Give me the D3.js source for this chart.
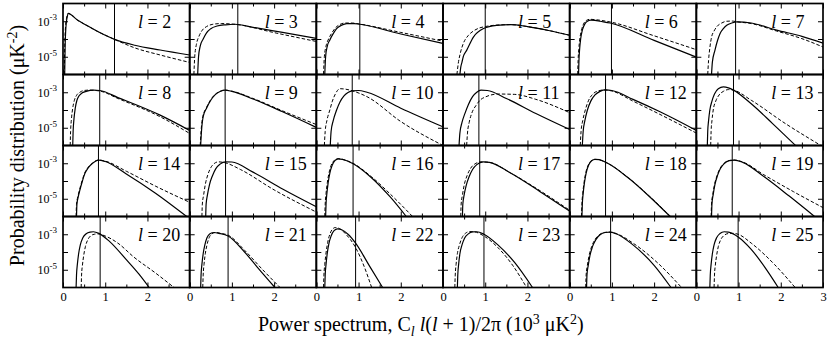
<!DOCTYPE html>
<meta charset="utf-8">
<script src="https://cdn.jsdelivr.net/npm/d3@7/dist/d3.min.js"></script>
<style>
  body { margin: 0; background: #fff; }
  text { font-family: "Liberation Serif", "Times New Roman", serif; fill: #000; }
</style>
<svg></svg>
<script>
    // multipole of each panel
    var ells = d3.range(2, 26);
    // position of the vertical line in each panel (10^3 uK^2)
    var vline = [1.22, 1.14, 1.03, 1.0, 0.99, 0.93,
                 0.87, 0.84, 0.85, 0.85, 0.85, 0.88,
                 0.84, 0.85, 0.87, 0.87, 0.85, 0.85,
                 0.88, 0.91, 0.93, 0.97, 0.97, 0.99];
    // solid curves: [x, log10 p]
    var solid = [
        [[0.04,-6],[0.05,-4.5],[0.07,-3.3],[0.1,-2.75],[0.13,-2.56],[0.2,-2.65],[0.35,-2.95],[0.5,-3.15],[0.8,-3.55],[1.22,-4.02],[1.7,-4.35],[2.3,-4.62],[3,-4.9]],
        [[0.19,-6],[0.21,-5],[0.25,-4.4],[0.32,-4.0],[0.4,-3.65],[0.5,-3.42],[0.65,-3.27],[0.85,-3.2],[1.07,-3.17],[1.5,-3.34],[2.2,-3.63],[3,-3.96]],
        [[0.2,-6],[0.22,-5],[0.26,-4.4],[0.32,-4.05],[0.4,-3.7],[0.48,-3.42],[0.6,-3.22],[0.72,-3.13],[0.9,-3.13],[1.03,-3.17],[2,-3.72],[3,-4.25]],
        [[0.4,-6],[0.42,-5.6],[0.45,-5.3],[0.48,-5.0],[0.56,-4.64],[0.72,-3.89],[0.96,-3.41],[1.27,-3.23],[1.6,-3.19],[2,-3.3],[2.5,-3.52],[3,-3.79]],
        [[0.21,-6],[0.22,-5.2],[0.235,-4.6],[0.26,-4.0],[0.3,-3.5],[0.36,-3.15],[0.42,-3.0],[0.5,-2.94],[0.6,-2.95],[0.72,-3.0],[0.96,-3.1],[2,-4.08],[3,-5.02]],
        [[0.36,-6],[0.38,-5.3],[0.44,-4.64],[0.5,-4.1],[0.56,-3.7],[0.64,-3.42],[0.72,-3.23],[0.84,-3.1],[0.96,-3.04],[1.3,-3.1],[1.9,-3.5],[2.5,-3.85],[3,-4.23]],
        [[0.23,-6],[0.24,-5.2],[0.26,-4.5],[0.29,-3.9],[0.33,-3.45],[0.38,-3.2],[0.44,-3.06],[0.55,-2.95],[0.72,-2.88],[0.87,-2.9],[1.3,-3.3],[2.3,-4.29],[3,-5.15]],
        [[0.26,-6],[0.28,-5.2],[0.32,-4.38],[0.4,-3.9],[0.5,-3.45],[0.6,-3.15],[0.72,-2.96],[0.84,-2.88],[1.0,-2.95],[1.5,-3.38],[2.2,-4.1],[3,-4.98]],
        [[0.33,-6],[0.35,-5.2],[0.4,-4.6],[0.48,-4.0],[0.56,-3.55],[0.65,-3.22],[0.75,-3.02],[0.85,-2.92],[1.0,-2.9],[1.2,-3.0],[2,-3.9],[3,-4.95]],
        [[0.38,-6],[0.4,-5.3],[0.45,-4.7],[0.52,-4.19],[0.6,-3.7],[0.7,-3.25],[0.8,-3.0],[0.9,-2.88],[1.05,-2.9],[1.5,-3.35],[2.2,-4.2],[3,-5.1]],
        [[0.3,-6],[0.32,-5.2],[0.36,-4.6],[0.42,-4.0],[0.5,-3.5],[0.6,-3.15],[0.72,-2.95],[0.85,-2.87],[1.0,-2.9],[1.5,-3.4],[2.14,-4.1],[3,-5.15]],
        [[0.26,-6],[0.27,-5.2],[0.29,-4.6],[0.32,-4.0],[0.37,-3.5],[0.43,-3.1],[0.52,-2.8],[0.64,-2.7],[0.76,-2.75],[0.88,-2.88],[1.3,-3.65],[1.8,-4.75],[2.35,-6]],
        [[0.32,-6],[0.33,-5.3],[0.36,-4.9],[0.4,-4.51],[0.46,-4.0],[0.52,-3.57],[0.6,-3.25],[0.7,-3.0],[0.84,-2.82],[1.0,-2.9],[1.5,-3.6],[2.2,-4.7],[2.93,-6]],
        [[0.38,-6],[0.39,-5.3],[0.42,-4.8],[0.47,-4.2],[0.54,-3.7],[0.62,-3.3],[0.72,-3.05],[0.85,-2.92],[1.0,-2.93],[1.5,-3.5],[2.2,-4.45],[3,-5.45]],
        [[0.22,-6],[0.23,-5.3],[0.25,-4.7],[0.28,-4.1],[0.32,-3.55],[0.37,-3.15],[0.44,-2.85],[0.52,-2.75],[0.62,-2.78],[0.85,-3.0],[1.3,-3.8],[1.75,-4.9],[2.13,-6]],
        [[0.46,-6],[0.47,-5.3],[0.5,-4.8],[0.55,-4.25],[0.62,-3.75],[0.7,-3.35],[0.8,-3.08],[0.95,-2.92],[1.1,-2.95],[1.6,-3.55],[2.3,-4.6],[3,-5.7]],
        [[0.29,-6],[0.3,-5.3],[0.32,-4.7],[0.35,-4.1],[0.39,-3.55],[0.45,-3.1],[0.52,-2.86],[0.6,-2.78],[0.7,-2.8],[0.9,-3.0],[1.4,-3.85],[1.9,-4.9],[2.38,-6]],
        [[0.36,-6],[0.37,-5.3],[0.4,-4.75],[0.44,-4.2],[0.5,-3.7],[0.57,-3.3],[0.66,-3.02],[0.78,-2.85],[0.9,-2.82],[1.1,-2.95],[1.6,-3.75],[2.2,-4.85],[2.8,-6]],
        [[0.31,-6],[0.32,-5.3],[0.34,-4.7],[0.37,-4.1],[0.41,-3.6],[0.47,-3.2],[0.55,-2.97],[0.64,-2.88],[0.72,-2.86],[0.85,-2.95],[1.1,-3.4],[1.51,-4.46],[1.8,-5.25],[2.04,-6]],
        [[0.26,-6],[0.27,-5.3],[0.29,-4.7],[0.32,-4.1],[0.36,-3.6],[0.41,-3.2],[0.48,-2.97],[0.58,-2.9],[0.7,-2.95],[0.91,-3.1],[1.3,-4.0],[1.6,-4.85],[2.02,-6]],
        [[0.2,-6],[0.21,-5.3],[0.23,-4.7],[0.26,-4.05],[0.3,-3.5],[0.35,-3.1],[0.42,-2.8],[0.5,-2.7],[0.6,-2.75],[0.75,-3.0],[0.93,-3.5],[1.25,-4.75],[1.57,-6]],
        [[0.34,-6],[0.35,-5.3],[0.37,-4.7],[0.4,-4.1],[0.45,-3.6],[0.51,-3.22],[0.6,-2.98],[0.7,-2.87],[0.8,-2.86],[0.97,-3.0],[1.3,-3.6],[1.7,-4.6],[2.12,-6]],
        [[0.4,-6],[0.41,-5.3],[0.44,-4.75],[0.48,-4.2],[0.54,-3.7],[0.62,-3.3],[0.72,-3.03],[0.84,-2.9],[0.95,-2.88],[1.1,-2.97],[1.5,-3.6],[2.0,-4.75],[2.4,-6]],
        [[0.32,-6],[0.33,-5.3],[0.35,-4.7],[0.38,-4.1],[0.42,-3.6],[0.48,-3.2],[0.56,-2.96],[0.66,-2.86],[0.76,-2.88],[0.99,-3.15],[1.3,-3.85],[1.62,-4.85],[1.94,-6]]
    ];
    // dashed curves: [x, log10 p]
    var dashed = [
        [[0.03,-6],[0.04,-4.5],[0.06,-3.3],[0.09,-2.75],[0.12,-2.56],[0.2,-2.65],[0.35,-2.95],[0.5,-3.15],[0.8,-3.55],[1.22,-4.02],[1.7,-4.5],[2.3,-4.9],[3,-5.32]],
        [[0.1,-6],[0.12,-5],[0.16,-4.3],[0.22,-3.85],[0.3,-3.5],[0.4,-3.3],[0.55,-3.17],[0.75,-3.13],[1.1,-3.18],[2,-3.64],[3,-4.14]],
        [[0.17,-6],[0.19,-5],[0.23,-4.4],[0.29,-4.0],[0.37,-3.65],[0.45,-3.38],[0.56,-3.18],[0.68,-3.1],[0.85,-3.1],[1.03,-3.16],[2,-3.63],[3,-4.12]],
        [[0.33,-6],[0.36,-5.4],[0.41,-4.8],[0.48,-4.26],[0.6,-3.8],[0.72,-3.55],[0.86,-3.38],[1.0,-3.3],[1.2,-3.23],[1.6,-3.19],[2,-3.3],[2.5,-3.52],[3,-3.79]],
        [[0.19,-6],[0.2,-5.2],[0.215,-4.6],[0.24,-4.0],[0.28,-3.5],[0.34,-3.1],[0.4,-2.95],[0.48,-2.89],[0.6,-2.91],[0.96,-3.04],[2,-3.82],[3,-4.6]],
        [[0.27,-6],[0.29,-5.2],[0.32,-4.5],[0.36,-3.9],[0.42,-3.55],[0.48,-3.32],[0.6,-3.1],[0.72,-3.0],[0.85,-2.99],[0.96,-3.03],[1.3,-3.13],[1.9,-3.55],[2.5,-3.98],[3,-4.45]],
        [[0.17,-6],[0.18,-5.2],[0.2,-4.5],[0.23,-3.9],[0.27,-3.45],[0.32,-3.18],[0.4,-3.0],[0.5,-2.9],[0.62,-2.88],[0.87,-2.93],[1.3,-3.35],[2.3,-4.38],[3,-5.32]],
        [[0.25,-6],[0.27,-5.2],[0.31,-4.38],[0.39,-3.9],[0.49,-3.45],[0.59,-3.15],[0.71,-2.96],[0.84,-2.88],[1.0,-2.94],[1.5,-3.35],[2.2,-4.05],[3,-4.82]],
        [[0.19,-6],[0.21,-5.2],[0.25,-4.6],[0.32,-4.0],[0.38,-3.5],[0.45,-3.1],[0.56,-2.8],[0.7,-2.83],[0.85,-2.92],[1.2,-3.25],[2.0,-4.65],[3,-6.0]],
        [[0.56,-6],[0.58,-5.3],[0.62,-4.7],[0.68,-4.19],[0.78,-3.75],[0.88,-3.44],[1.0,-3.27],[1.11,-3.17],[1.3,-3.1],[1.7,-3.12],[2.2,-3.4],[3,-4.15]],
        [[0.25,-6],[0.27,-5.2],[0.31,-4.6],[0.37,-4.0],[0.45,-3.45],[0.55,-3.1],[0.68,-2.92],[0.82,-2.87],[1.0,-2.93],[1.5,-3.5],[2.14,-4.25],[3,-5.3]],
        [[0.34,-6],[0.35,-5.2],[0.37,-4.6],[0.4,-4.0],[0.46,-3.5],[0.54,-3.15],[0.64,-2.95],[0.76,-2.85],[0.88,-2.88],[1.3,-3.45],[2.1,-4.75],[2.95,-6]],
        [[0.31,-6],[0.32,-5.3],[0.35,-4.9],[0.39,-4.51],[0.45,-4.0],[0.51,-3.57],[0.59,-3.25],[0.7,-3.0],[0.84,-2.82],[1.0,-2.88],[1.5,-3.45],[2.2,-4.3],[3,-5.2]],
        [[0.29,-6],[0.3,-5.3],[0.33,-4.8],[0.37,-4.2],[0.43,-3.65],[0.5,-3.25],[0.58,-3.02],[0.68,-2.92],[0.85,-2.98],[1.2,-3.35],[2.0,-4.5],[3,-5.75]],
        [[0.2,-6],[0.21,-5.3],[0.23,-4.7],[0.26,-4.1],[0.3,-3.55],[0.35,-3.12],[0.42,-2.85],[0.5,-2.74],[0.6,-2.77],[0.85,-2.98],[1.3,-3.75],[1.8,-4.85],[2.28,-6]],
        [[0.42,-6],[0.43,-5.3],[0.46,-4.8],[0.5,-4.25],[0.57,-3.7],[0.65,-3.3],[0.76,-3.03],[0.9,-2.92],[1.1,-2.95],[1.6,-3.55],[2.3,-4.55],[3,-5.65]],
        [[0.28,-6],[0.29,-5.3],[0.31,-4.7],[0.34,-4.1],[0.38,-3.55],[0.44,-3.1],[0.51,-2.86],[0.59,-2.78],[0.69,-2.8],[0.9,-3.0],[1.4,-3.84],[1.9,-4.88],[2.39,-6]],
        [[0.35,-6],[0.36,-5.3],[0.39,-4.75],[0.43,-4.2],[0.49,-3.7],[0.56,-3.3],[0.65,-3.02],[0.77,-2.85],[0.9,-2.82],[1.1,-2.93],[1.6,-3.65],[2.3,-4.6],[3,-5.5]],
        [[0.43,-6],[0.44,-5.3],[0.46,-4.75],[0.49,-4.2],[0.53,-3.7],[0.59,-3.3],[0.66,-3.08],[0.74,-3.0],[0.82,-2.98],[1.0,-3.1],[1.3,-3.5],[1.67,-4.27],[2.2,-5.2],[2.63,-6]],
        [[0.31,-6],[0.32,-5.3],[0.34,-4.7],[0.37,-4.1],[0.41,-3.6],[0.46,-3.2],[0.53,-2.97],[0.62,-2.9],[0.74,-2.95],[0.91,-3.05],[1.3,-3.9],[1.71,-4.95],[2.14,-6]],
        [[0.17,-6],[0.18,-5.3],[0.2,-4.7],[0.23,-4.05],[0.27,-3.45],[0.32,-3.0],[0.38,-2.72],[0.45,-2.62],[0.55,-2.68],[0.7,-3.0],[0.93,-3.75],[1.13,-4.8],[1.31,-6]],
        [[0.28,-6],[0.29,-5.3],[0.31,-4.7],[0.34,-4.1],[0.39,-3.6],[0.45,-3.2],[0.53,-2.95],[0.63,-2.85],[0.73,-2.86],[0.97,-3.1],[1.3,-3.75],[1.65,-4.75],[1.98,-6]],
        [[0.38,-6],[0.39,-5.3],[0.42,-4.75],[0.46,-4.2],[0.52,-3.7],[0.6,-3.3],[0.7,-3.03],[0.82,-2.9],[0.93,-2.88],[1.1,-2.96],[1.5,-3.5],[2.1,-4.65],[2.65,-6]],
        [[0.42,-6],[0.43,-5.3],[0.45,-4.75],[0.48,-4.2],[0.52,-3.7],[0.58,-3.3],[0.66,-3.06],[0.76,-2.96],[0.88,-2.95],[0.99,-3.0],[1.3,-3.5],[1.85,-4.7],[2.34,-6]]
    ];
    var xMajor = [0, 1, 2, 3];
    var xMinor = [0.5, 1.5, 2.5];
    var yTicks = [1e-3, 1e-4, 1e-5];
    var yLabels = [[1e-3, "-3"], [1e-5, "-5"]];

    var width = 830, height = 344;
    var mLeft = 63, mTop = 3.5, cols = 6, rows = 4;
    var pw = (823 - mLeft) / cols, ph = 71;

    var svg = d3.select("svg").attr('width', width).attr('height', height);
    svg.append('defs').append('clipPath').attr('id', 'clip')
        .append('rect').attr('width', pw).attr('height', ph);

    var x = d3.scaleLinear().domain([0, 3]).range([0, pw]);
    var y = d3.scaleLog().domain([1e-6, 1e-2]).range([ph, 0]);
    var line = d3.line()
        .x(d => x(d[0]))
        .y(d => y(Math.pow(10, d[1])))
        .curve(d3.curveMonotoneX);

    ells.forEach((l, i) => {
        var col = i % cols, row = Math.floor(i / cols);
        var g = svg.append('g')
            .attr('transform', 'translate(' + (mLeft + col * pw) + ',' + (mTop + row * ph) + ')');
        var c = g.append('g').attr('clip-path', 'url(#clip)');
        c.append('line')
            .attr('x1', x(vline[i])).attr('x2', x(vline[i]))
            .attr('y1', 0).attr('y2', ph)
            .attr('stroke', '#000').attr('stroke-width', 1);
        c.append('path').datum(dashed[i])
            .attr('d', line).attr('fill', 'none')
            .attr('stroke', '#000').attr('stroke-width', 1)
            .attr('stroke-dasharray', '3.5,2');
        c.append('path').datum(solid[i])
            .attr('d', line).attr('fill', 'none')
            .attr('stroke', '#000').attr('stroke-width', 1.2);

        // inward ticks on all four sides
        var axes = [
            [d3.axisBottom(x).tickValues(xMajor).tickSize(5), 0, 0],
            [d3.axisBottom(x).tickValues(xMinor).tickSize(3), 0, 0],
            [d3.axisTop(x).tickValues(xMajor).tickSize(5), 0, ph],
            [d3.axisTop(x).tickValues(xMinor).tickSize(3), 0, ph],
            [d3.axisRight(y).tickValues(yTicks).tickSize(5), 0, 0],
            [d3.axisLeft(y).tickValues(yTicks).tickSize(5), pw, 0]
        ];
        axes.forEach(a => {
            var ag = g.append('g')
                .attr('transform', 'translate(' + a[1] + ',' + a[2] + ')')
                .call(a[0].tickFormat(''));
            ag.select('.domain').remove();
            ag.selectAll('line').attr('stroke-width', 1);
        });

        g.append('rect').attr('width', pw).attr('height', ph)
            .attr('fill', 'none').attr('stroke', '#000').attr('stroke-width', 1.7);

        var lab = g.append('text').attr('x', 75).attr('y', 24.5).style('font-size', '18px');
        lab.append('tspan').style('font-style', 'italic').text('l');
        lab.append('tspan').text(' = ' + l);

        if (row === rows - 1) {
            var xa = g.append('g').attr('transform', 'translate(0,' + ph + ')')
                .call(d3.axisBottom(x).tickValues(col === cols - 1 ? xMajor : xMajor.slice(0, 3))
                    .tickSize(0).tickPadding(5).tickFormat(d3.format('d')));
            xa.select('.domain').remove();
            xa.selectAll('text').style('font-family', '"Liberation Serif", serif').style('font-size', '12.5px');
        }
        if (col === 0) {
            yLabels.forEach(t => {
                var tx = g.append('text').attr('x', -6).attr('y', y(t[0]) + 4.5)
                    .attr('text-anchor', 'end').style('font-size', '12px');
                tx.append('tspan').text('10');
                tx.append('tspan').attr('dy', -5.5).style('font-size', '9px').text(t[1]);
            });
        }
    });

    // axis titles
    var yt = svg.append('text')
        .attr('transform', 'translate(24,' + (mTop + rows * ph / 2) + ') rotate(-90)')
        .attr('text-anchor', 'middle').style('font-size', '20px');
    yt.append('tspan').text('Probability distribution (\u03bcK');
    yt.append('tspan').attr('dy', -7).style('font-size', '14px').text('-2');
    yt.append('tspan').attr('dy', 7).text(')');

    var xt = svg.append('text').attr('x', 258).attr('y', 331).style('font-size', '20px');
    xt.append('tspan').text('Power spectrum, C');
    xt.append('tspan').attr('dy', 5).style('font-size', '14px').style('font-style', 'italic').text('l');
    xt.append('tspan').attr('dy', -5).text(' ');
    xt.append('tspan').style('font-style', 'italic').text('l');
    xt.append('tspan').text('(');
    xt.append('tspan').style('font-style', 'italic').text('l');
    xt.append('tspan').text(' + 1)/2\u03c0 (10');
    xt.append('tspan').attr('dy', -7).style('font-size', '14px').text('3');
    xt.append('tspan').attr('dy', 7).text(' \u03bcK');
    xt.append('tspan').attr('dy', -7).style('font-size', '14px').text('2');
    xt.append('tspan').attr('dy', 7).text(')');
</script>
